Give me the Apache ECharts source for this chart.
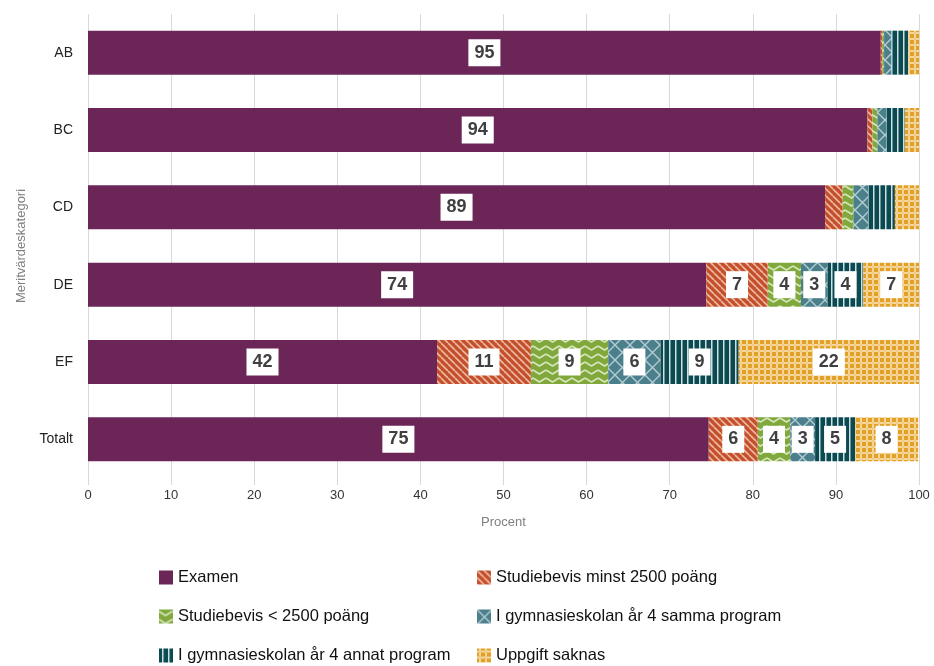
<!DOCTYPE html>
<html><head><meta charset="utf-8">
<script src="https://cdn.jsdelivr.net/npm/echarts@6/dist/echarts.min.js"></script>
<style>html,body{margin:0;padding:0;background:#fff}#c{width:934px;height:666px}</style>
</head><body><div id="c"></div>
<script>
const categories = ['AB','BC','CD','DE','EF','Totalt'];
const seriesNames = ['Examen','Studiebevis minst 2500 poäng','Studiebevis < 2500 poäng','I gymnasieskolan år 4 samma program','I gymnasieskolan år 4 annat program','Uppgift saknas'];
const examen      = [95.4, 93.8, 88.7, 74.4, 42.0, 74.7];
const minst2500   = [0.2, 0.6, 2.1, 7.4, 11.3, 5.9];
const under2500   = [0.2, 0.6, 1.3, 4.0, 9.3, 3.9];
const sammaProg   = [0.9, 1.1, 1.8, 3.2, 6.3, 3.0];
const annatProg   = [2.0, 2.2, 3.2, 4.3, 9.4, 4.8];
const saknas      = [1.3, 1.7, 2.9, 6.7, 21.7, 7.6];
const labelledRows = ['DE','EF','Totalt']; // rows where every segment is labelled
const xTicks = [0,10,20,30,40,50,60,70,80,90,100];

function tile(w,h,bg,draw){
  const c=document.createElement('canvas');c.width=w;c.height=h;
  const g=c.getContext('2d');g.fillStyle=bg;g.fillRect(0,0,w,h);draw(g,w,h);return c;
}
const pats = [
  '#6b2657',
  {image: tile(7,7,'#c4502b',(g,w,h)=>{g.strokeStyle='#eeb9a4';g.lineWidth=1.6;
     for(let k=-1;k<=1;k++){g.beginPath();g.moveTo(k*w,0);g.lineTo(k*w+w,h);g.stroke();}}), repeat:'repeat'},
  {image: tile(13,8,'#80a83c',(g,w,h)=>{g.strokeStyle='#d5e6bb';g.lineWidth=1.5;
     g.beginPath();g.moveTo(0,2);g.lineTo(w/2,6);g.lineTo(w,2);g.stroke();}), repeat:'repeat'},
  {image: tile(15,15,'#4b7f8c',(g,w,h)=>{g.strokeStyle='#b3ccd2';g.lineWidth=1.4;
     g.beginPath();g.moveTo(0,0);g.lineTo(w,h);g.moveTo(w,0);g.lineTo(0,h);g.stroke();}), repeat:'repeat'},
  {image: tile(6,6,'#0c4a52',(g,w,h)=>{g.fillStyle='#cfe0e3';g.fillRect(3,0,1.5,h);}), repeat:'repeat'},
  {image: tile(6,6,'#e0a126',(g,w,h)=>{g.fillStyle='#f5d59a';g.fillRect(2,0,2,6);g.fillRect(0,2,6,2);g.fillStyle='#e8b24c';g.fillRect(2.5,2.5,1,1);}), repeat:'repeat'}
];
const dataSets = [examen, minst2500, under2500, sammaProg, annatProg, saknas];

const series = dataSets.map((arr,si)=>({
  name: seriesNames[si], type:'bar', stack:'total', barWidth:44,
  itemStyle:{color:pats[si]},
  data: arr.map((v,ri)=>({value:v, label:{show: si===0 || labelledRows.includes(categories[ri])}})),
  label:{show:true, position:'inside', formatter:p=>Math.round(p.value),
    backgroundColor:'#fff', color:'#404040', fontWeight:'bold', fontSize:18,
    fontFamily:'Liberation Sans, Arial, sans-serif', padding:[5,6,4,6]},
  emphasis:{disabled:true}
}));

const legendBase = {orient:'vertical',top:569,padding:0,height:97,
  itemWidth:14,itemHeight:14,itemGap:22,icon:'rect',
  textStyle:{fontSize:16.5,color:'#111'},selectedMode:false};

const chart = echarts.init(document.getElementById('c'));
chart.setOption({
  animation:false,
  textStyle:{fontFamily:'Liberation Sans, Arial, sans-serif'},
  grid:{left:88,right:15,top:14,bottom:188},
  xAxis:{type:'value',min:0,max:100,interval:10,
    name:'Procent',nameLocation:'middle',nameGap:38,nameTextStyle:{color:'#808080',fontSize:13},
    axisLine:{show:false},axisTick:{show:true,length:7,lineStyle:{color:'#d9d9d9'}},
    splitLine:{lineStyle:{color:'#d9d9d9'}},
    axisLabel:{color:'#333',fontSize:13,margin:11,formatter:v=>xTicks.includes(v)?String(v):''}},
  yAxis:{type:'category',data:categories,inverse:true,
    name:'Meritvärdeskategori',nameLocation:'middle',nameGap:60,nameRotate:90,
    nameTextStyle:{color:'#808080',fontSize:13},
    axisLine:{show:false},axisTick:{show:false},
    axisLabel:{color:'#222',fontSize:14,fontWeight:'normal',margin:15}},
  legend:[
    Object.assign({data:[seriesNames[0],seriesNames[2],seriesNames[4]],left:159}, legendBase),
    Object.assign({data:[seriesNames[1],seriesNames[3],seriesNames[5]],left:477}, legendBase)
  ],
  series
});
</script></body></html>
